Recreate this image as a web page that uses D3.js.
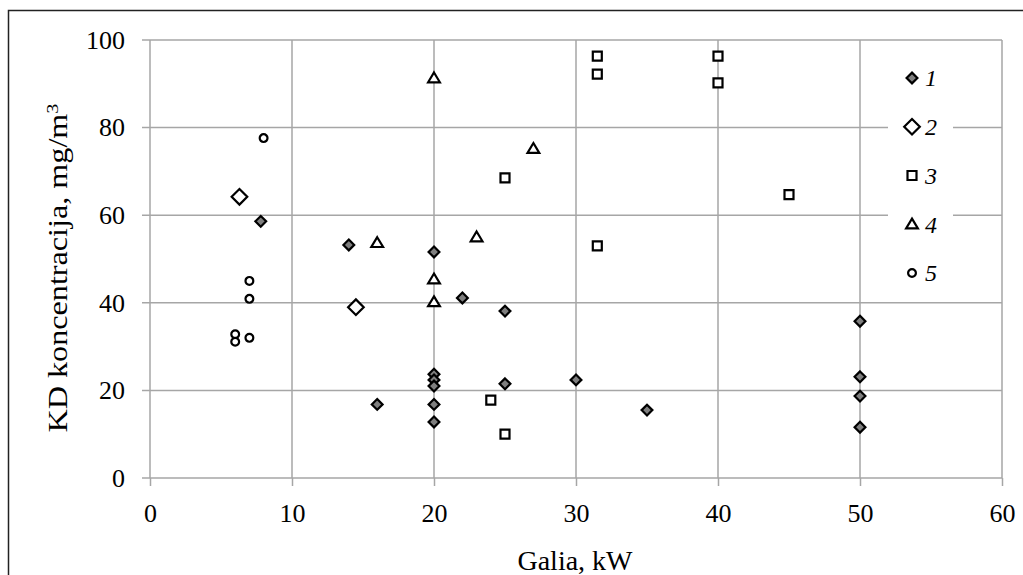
<!DOCTYPE html>
<html>
<head>
<meta charset="utf-8">
<script src="https://cdn.jsdelivr.net/npm/d3@7"></script>
<style>
  body { margin: 0; background: #fff; }
  svg text { font-family: "Liberation Serif", "Times New Roman", serif; fill: #000; }
</style>
</head>
<body>
<div id="chart"></div>
<script>
// series values
var s1x = [14, 7.8, 20, 22, 25, 20, 20, 20, 20, 20, 16, 25, 30, 35, 50, 50, 50, 50];
var s1y = [53.2, 58.6, 51.6, 41.1, 38.1, 23.7, 22.4, 21.0, 16.8, 12.8, 16.8, 21.5, 22.4, 15.5, 35.8, 23.1, 18.7, 11.6];
var s2x = [6.3, 14.5];
var s2y = [64.2, 39.0];
var s3x = [31.5, 31.5, 40, 40, 25, 31.5, 45, 24, 25];
var s3y = [96.3, 92.2, 96.3, 90.2, 68.5, 53.0, 64.7, 17.8, 10.0];
var s4x = [20, 27, 16, 23, 20, 20];
var s4y = [91.3, 75.2, 53.7, 55.0, 45.4, 40.2];
var s5x = [8, 7, 7, 7, 6, 6];
var s5y = [77.6, 45.0, 40.9, 32.0, 32.8, 31.1];

var seriesNames = ["1", "2", "3", "4", "5"];
var xTicks = [0, 10, 20, 30, 40, 50, 60];
var yTicks = [0, 20, 40, 60, 80, 100];

var width = 1023, height = 575;
var margin = {top: 40, right: 21, bottom: 97, left: 150};

var svg = d3.select("#chart").append("svg")
    .attr("width", width)
    .attr("height", height);

// outer chart border
svg.append("rect")
  .attr("x", 8.5).attr("y", 10.5)
  .attr("width", 1030).attr("height", 600)
  .attr("fill", "none")
  .attr("stroke", "#222")
  .attr("stroke-width", 1.5);

var x = d3.scaleLinear().domain([0, 60]).range([margin.left, width - margin.right]);
var y = d3.scaleLinear().domain([0, 100]).range([height - margin.bottom, margin.top]);

// grid
svg.append("g").selectAll("line").data(xTicks).enter().append("line")
  .attr("x1", d => x(d)).attr("x2", d => x(d))
  .attr("y1", y(0)).attr("y2", y(100))
  .attr("stroke", "#a6a6a6").attr("stroke-width", 1.5);
svg.append("g").selectAll("line").data(yTicks).enter().append("line")
  .attr("x1", x(0) - 8).attr("x2", x(60))
  .attr("y1", d => y(d)).attr("y2", d => y(d))
  .attr("stroke", "#a6a6a6").attr("stroke-width", 1.5);

// axes (ticks + labels)
var xAxis = d3.axisBottom(x).tickValues(xTicks).tickSize(8).tickPadding(18);
var yAxis = d3.axisLeft(y).tickValues(yTicks).tickSize(0).tickPadding(25);

var gx = svg.append("g").attr("transform", "translate(0," + y(0) + ")").call(xAxis);
gx.select(".domain").remove();
gx.selectAll("line").attr("stroke", "#a6a6a6").attr("stroke-width", 1.5);
gx.selectAll("text").attr("font-size", 26).attr("font-family", "Liberation Serif");

var gy = svg.append("g").attr("transform", "translate(" + x(0) + ",0)").call(yAxis);
gy.select(".domain").remove();
gy.selectAll("text").attr("font-size", 26).attr("font-family", "Liberation Serif");

// axis titles
svg.append("text")
  .attr("x", 575).attr("y", 570)
  .attr("text-anchor", "middle")
  .attr("font-size", 28)
  .text("Galia, kW");

var yt = svg.append("text")
  .attr("transform", "translate(67,268) rotate(-90)")
  .attr("text-anchor", "middle")
  .attr("font-size", 27)
  .attr("textLength", 329)
  .attr("lengthAdjust", "spacingAndGlyphs");
yt.append("tspan").text("KD koncentracija, mg/m");
yt.append("tspan").attr("baseline-shift", "super").attr("font-size", 17).text("3");

// marker shapes
function diamond(r) { return "M0," + (-r) + "L" + r + ",0L0," + r + "L" + (-r) + ",0Z"; }
function square(r) { return "M" + (-r) + "," + (-r) + "H" + r + "V" + r + "H" + (-r) + "Z"; }
function triangle(r) { return "M0," + (-r) + "L" + (r * 1.05) + "," + (r * 0.75) + "L" + (-r * 1.05) + "," + (r * 0.75) + "Z"; }
function circle(r) { return "M" + (-r) + ",0A" + r + "," + r + " 0 1,0 " + r + ",0A" + r + "," + r + " 0 1,0 " + (-r) + ",0Z"; }

var styles = [
  {path: diamond(5.4), fill: "#7f7f7f"},
  {path: diamond(7.8), fill: "#fff"},
  {path: square(4.5), fill: "#fff"},
  {path: triangle(5.6), fill: "#fff"},
  {path: circle(3.9), fill: "#fff"}
];

var series = [
  {xs: s1x, ys: s1y},
  {xs: s2x, ys: s2y},
  {xs: s3x, ys: s3y},
  {xs: s4x, ys: s4y},
  {xs: s5x, ys: s5y}
];

series.forEach(function(s, i) {
  var pts = s.xs.map((v, j) => [v, s.ys[j]]);
  svg.append("g").selectAll("path").data(pts).enter().append("path")
    .attr("d", styles[i].path)
    .attr("transform", d => "translate(" + x(d[0]) + "," + y(d[1]) + ")")
    .attr("fill", styles[i].fill)
    .attr("stroke", "#000")
    .attr("stroke-width", 2.2);
});

// legend
var legend = svg.append("g");
legend.append("rect")
  .attr("x", 888).attr("y", 60)
  .attr("width", 65).attr("height", 232)
  .attr("fill", "#fff");

var rowY = d3.scaleLinear().domain([0, 4]).range([78, 273]);
var rows = legend.selectAll("g.row").data(seriesNames).enter().append("g")
  .attr("class", "row")
  .attr("transform", (d, i) => "translate(912," + rowY(i) + ")");
rows.append("path")
  .attr("d", (d, i) => styles[i].path)
  .attr("fill", (d, i) => styles[i].fill)
  .attr("stroke", "#000")
  .attr("stroke-width", 2.2);
rows.append("text")
  .attr("x", 13).attr("dy", "0.35em")
  .attr("font-size", 24)
  .attr("font-style", "italic")
  .text(d => d);
</script>
</body>
</html>
